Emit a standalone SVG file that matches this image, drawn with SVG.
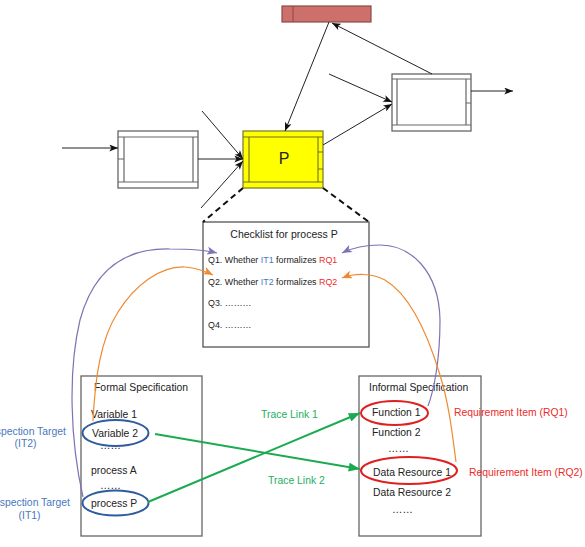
<svg xmlns="http://www.w3.org/2000/svg" width="585" height="547" viewBox="0 0 585 547">
<style>
text{font-family:"Liberation Sans",Arial,sans-serif;font-size:10.4px;fill:#222}
.box{fill:#fff;stroke:#666;stroke-width:1.3}
.ln{stroke:#666;stroke-width:1.2;fill:none}
.pbox{fill:#ffff00;stroke:#808030;stroke-width:1.3}
.pln{stroke:#707020;stroke-width:1.1;fill:none}
.arr{stroke:#222;stroke-width:1;fill:none;marker-end:url(#ah)}
.dash{stroke:#111;stroke-width:2;stroke-dasharray:6 4;fill:none}
.grn{stroke:#1aab50;stroke-width:2;fill:none;marker-end:url(#ag)}
.pur{stroke:#7f72b4;stroke-width:1.2;fill:none;marker-end:url(#ap)}
.org{stroke:#f08a30;stroke-width:1.2;fill:none;marker-end:url(#ao)}
.q{font-size:8.9px}
.blue{fill:#4a78c0}
.red{fill:#ee2a2a}
.green{fill:#22b060}
.bell{fill:none;stroke:#2f5b9f;stroke-width:2}
.rell{fill:none;stroke:#e02020;stroke-width:2}
</style>
<defs>
<marker id="ah" viewBox="0 0 10 8" refX="10" refY="4" markerWidth="9" markerHeight="7" markerUnits="userSpaceOnUse" orient="auto"><path d="M0,0 L10,4 L0,8 L2.5,4 z" fill="#111"/></marker>
<marker id="ag" viewBox="0 0 10 8" refX="10" refY="4" markerWidth="12" markerHeight="9" markerUnits="userSpaceOnUse" orient="auto"><path d="M0,0 L10,4 L0,8 z" fill="#1aab50"/></marker>
<marker id="ap" viewBox="0 0 10 8" refX="10" refY="4" markerWidth="11" markerHeight="8" markerUnits="userSpaceOnUse" orient="auto"><path d="M0,0 L10,4 L0,8 L2.5,4 z" fill="#7f72b4"/></marker>
<marker id="ao" viewBox="0 0 10 8" refX="10" refY="4" markerWidth="11" markerHeight="8" markerUnits="userSpaceOnUse" orient="auto"><path d="M0,0 L10,4 L0,8 L2.5,4 z" fill="#f08a30"/></marker>
</defs>

<g id="red-bar">
<rect x="282" y="6" width="89" height="16" fill="#cd6f6a" stroke="#8a4a48" stroke-width="1.2"/>
<line x1="293" y1="6" x2="293" y2="22" stroke="#8a4a48" stroke-width="1"/>
</g>

<g id="left-process">
<rect class="box" x="118" y="131" width="80" height="57"/>
<path class="ln" d="M118,137 H198 M118,182 H198 M124,137 V182 M193,137 V182 M118,159 H124"/>
</g>

<g id="process-p">
<rect class="pbox" x="243" y="131" width="80" height="57"/>
<path class="pln" d="M243,137 H323 M243,182 H323 M249,137 V182 M318,137 V182 M318,152 H323 M318,169 H323"/>
<text x="284" y="164" text-anchor="middle" style="font-size:16px">P</text>
</g>

<g id="right-process">
<rect class="box" x="392" y="74" width="79" height="57"/>
<path class="ln" d="M392,79 H471 M392,125 H471 M397,79 V125 M466,79 V125 M466,103 H471"/>
</g>

<g id="checklist">
<rect x="203" y="222" width="166" height="125" fill="#fff" stroke="#555" stroke-width="1.3"/>
<text x="284" y="238" text-anchor="middle" style="font-size:10.5px">Checklist for process P</text>
<text class="q" x="208" y="263">Q1. Whether <tspan class="blue">IT1</tspan> formalizes <tspan class="red">RQ1</tspan></text>
<text class="q" x="208" y="285">Q2. Whether <tspan class="blue">IT2</tspan> formalizes <tspan class="red">RQ2</tspan></text>
<text class="q" x="208" y="306">Q3. ………</text>
<text class="q" x="208" y="328">Q4. ………</text>
</g>

<g id="formal-spec">
<rect x="81" y="376" width="121" height="160" fill="#fff" stroke="#666" stroke-width="1.3"/>
<text x="94" y="391">Formal Specification</text>
<text x="91" y="418">Variable 1</text>
<text x="92" y="437">Variable 2</text>
<text x="100" y="449">……</text>
<text x="91" y="474">process A</text>
<text x="100" y="489">……</text>
<text x="91" y="507">process P</text>
<ellipse class="bell" cx="115.5" cy="433" rx="33" ry="13"/>
<ellipse class="bell" cx="115.5" cy="503" rx="33" ry="12.5"/>
</g>

<g id="informal-spec">
<rect x="359" y="376" width="122" height="160" fill="#fff" stroke="#666" stroke-width="1.3"/>
<text x="369" y="391">Informal Specification</text>
<text x="372" y="416">Function 1</text>
<text x="372" y="436">Function 2</text>
<text x="388" y="452">……</text>
<text x="373" y="476">Data Resource 1</text>
<text x="373" y="496">Data Resource 2</text>
<text x="392" y="513">……</text>
<ellipse class="rell" cx="394.5" cy="413" rx="33.5" ry="12"/>
<ellipse class="rell" cx="409" cy="470.5" rx="48" ry="13.5"/>
</g>

<g id="labels">
<text class="blue" x="66" y="435" text-anchor="end">Inspection Target</text>
<text class="blue" x="25.5" y="447" text-anchor="middle">(IT2)</text>
<text class="blue" x="70" y="506" text-anchor="end">Inspection Target</text>
<text class="blue" x="29.5" y="519" text-anchor="middle">(IT1)</text>
<text class="red" x="454" y="416">Requirement Item (RQ1)</text>
<text class="red" x="469" y="476">Requirement Item (RQ2)</text>
<text class="green" x="261" y="418">Trace Link 1</text>
<text class="green" x="268" y="484">Trace Link 2</text>
</g>

<g id="connectors">
<line class="arr" x1="62" y1="148" x2="118" y2="148"/>
<line class="arr" x1="198" y1="159" x2="243" y2="159"/>
<line class="arr" x1="202" y1="111" x2="243" y2="159"/>
<line class="arr" x1="201" y1="208" x2="243" y2="161"/>
<line class="arr" x1="329" y1="22" x2="285" y2="131"/>
<line class="arr" x1="432" y1="74" x2="332" y2="23"/>
<line class="arr" x1="329" y1="74" x2="392" y2="102"/>
<line class="arr" x1="323" y1="145" x2="392" y2="104"/>
<line class="arr" x1="471" y1="91" x2="513" y2="91"/>
<line class="dash" x1="243" y1="188" x2="203" y2="222"/>
<line class="dash" x1="323" y1="188" x2="369" y2="222"/>
<line class="grn" x1="155" y1="434" x2="360" y2="469"/>
<line class="grn" x1="148" y1="502" x2="360" y2="413"/>
<path class="pur" d="M83,497 C70,440 68,370 80,320 C95,265 130,248 170,249 C190,249 205,250 217,253"/>
<path class="org" d="M93,421 C95,380 100,340 118,312 C135,285 160,266 185,267 C195,268 205,271 213,275"/>
<path class="pur" d="M428,406 C434,390 440,360 440,320 C439,270 410,245 380,245 C365,245 352,248 342,253"/>
<path class="org" d="M456,462 C452,430 448,400 440,375 C428,335 410,295 385,280 C372,273 355,273 342,278"/>
</g>
</svg>
